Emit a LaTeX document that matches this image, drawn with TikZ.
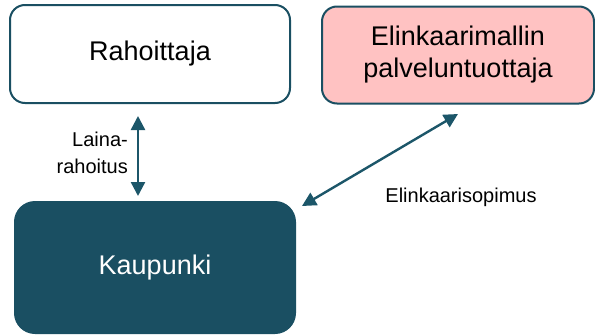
\documentclass[tikz,border=0pt]{standalone}
\usepackage{fontspec}
\setmainfont{Liberation Sans}
\usetikzlibrary{arrows.meta}
\definecolor{teal}{HTML}{1A4F62}
\definecolor{arrowteal}{HTML}{1C5669}
\definecolor{pinkfill}{HTML}{FFC2C2}
\tikzset{
  party/.style={rectangle, rounded corners=15pt, draw=teal, line width=2pt,
    align=center, text=black, inner sep=0pt},
  link/.style={draw=arrowteal, line width=2.4pt,
    {Triangle[length=14pt,width=14pt]}-{Triangle[length=14pt,width=14pt]}},
  note/.style={font=\fontsize{20}{27}\selectfont, text=black, inner sep=0pt}
}
\begin{document}
\begin{tikzpicture}[x=1pt, y=-1pt]
  \useasboundingbox (0,0) rectangle (595,335);
  % parties
  \node[party, fill=white, minimum width=280pt, minimum height=98pt,
        font=\fontsize{27}{32}\selectfont] (rah) at (150,54) {Rahoittaja};
  \node[party, fill=pinkfill, minimum width=272pt, minimum height=97pt,
        font=\fontsize{27}{32}\selectfont] (elp) at (458,55)
        {Elinkaarimallin\\palveluntuottaja};
  \node[party, fill=teal, text=white, rounded corners=20pt,
        minimum width=280pt, minimum height=131pt,
        font=\fontsize{27}{32}\selectfont] (kau) at (155,267.5) {Kaupunki};
  % loan financing link
  \coordinate (lx) at (138,0);
  \draw[link, shorten <=12pt, shorten >=5pt] (rah.south -| lx) -- (kau.north -| lx);
  \node[note, align=right, anchor=east] (laina) at (128,153)
        {Laina-\\rahoitus};
  % life-cycle contract link
  \coordinate (ka) at (302,206);
  \coordinate (ea) at (458,114);
  \draw[link] (ka) -- (ea);
  \node[note, anchor=center] (sop) at (461,197) {Elinkaarisopimus};
\end{tikzpicture}
\end{document}
